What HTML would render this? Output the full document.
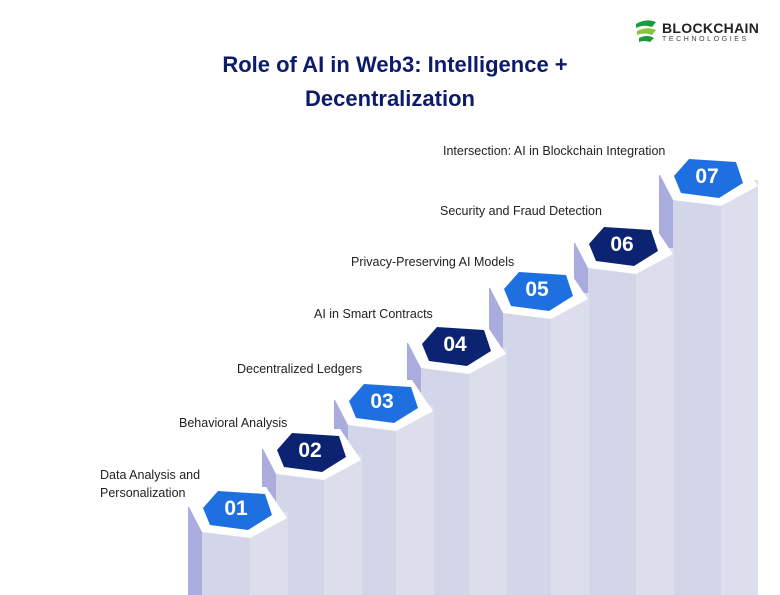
<!DOCTYPE html>
<html><head><meta charset="utf-8"><style>
html,body{margin:0;padding:0;background:#fff;}
svg{display:block;}
text{font-family:"Liberation Sans",sans-serif;}
</style></head><body>
<svg width="780" height="595" viewBox="0 0 780 595" xmlns="http://www.w3.org/2000/svg">
<rect width="780" height="595" fill="#fff"/>
<g>
<path d="M636 24 q10 -6 20 -2 l-4 5 q-8 -3 -16 1z" fill="#1a9c3a"/>
<path d="M637 31 q10 -5 19 -1 l-4 5 q-8 -3 -15 0z" fill="#8bc53f"/>
<path d="M639 38 q8 -4 15 0 l-4 4 q-6 -2 -11 0z" fill="#1a9c3a"/>
<text x="662" y="33" font-size="14" font-weight="bold" fill="#222" letter-spacing="0.3">BLOCKCHAIN</text>
<text x="662" y="41" font-size="7" fill="#444" letter-spacing="2.6">TECHNOLOGIES</text>
</g>
<text x="395" y="72" font-size="22" font-weight="bold" fill="#0d1b6b" text-anchor="middle">Role of AI in Web3: Intelligence +</text>
<text x="390" y="106" font-size="22" font-weight="bold" fill="#0d1b6b" text-anchor="middle">Decentralization</text>

<g>
<rect x="659" y="175" width="15" height="420" fill="#a9acdd"/>
<rect x="673" y="195" width="49" height="400" fill="#d3d5e8"/>
<rect x="721" y="180" width="37" height="415" fill="#dcdeeb"/>
<polygon points="659,173 673,155 737,155 758,186 721,206 673,200" fill="#fff"/>
<polygon points="674,176 689,159 736,162 743,183 719,198 681,193" fill="#1e6fe0"/>
<text x="707" y="183" font-size="21" font-weight="bold" fill="#fff" text-anchor="middle">07</text>
</g>
<g>
<rect x="574" y="243" width="15" height="352" fill="#a9acdd"/>
<rect x="588" y="263" width="49" height="332" fill="#d3d5e8"/>
<rect x="636" y="248" width="38" height="347" fill="#dcdeeb"/>
<polygon points="574,241 588,223 652,223 673,254 636,274 588,268" fill="#fff"/>
<polygon points="589,244 604,227 651,230 658,251 634,266 596,261" fill="#0c2372"/>
<text x="622" y="251" font-size="21" font-weight="bold" fill="#fff" text-anchor="middle">06</text>
</g>
<g>
<rect x="489" y="288" width="15" height="307" fill="#a9acdd"/>
<rect x="503" y="308" width="49" height="287" fill="#d3d5e8"/>
<rect x="551" y="293" width="38" height="302" fill="#dcdeeb"/>
<polygon points="489,286 503,268 567,268 588,299 551,319 503,313" fill="#fff"/>
<polygon points="504,289 519,272 566,275 573,296 549,311 511,306" fill="#1e6fe0"/>
<text x="537" y="296" font-size="21" font-weight="bold" fill="#fff" text-anchor="middle">05</text>
</g>
<g>
<rect x="407" y="343" width="15" height="252" fill="#a9acdd"/>
<rect x="421" y="363" width="49" height="232" fill="#d3d5e8"/>
<rect x="469" y="348" width="38" height="247" fill="#dcdeeb"/>
<polygon points="407,341 421,323 485,323 506,354 469,374 421,368" fill="#fff"/>
<polygon points="422,344 437,327 484,330 491,351 467,366 429,361" fill="#0c2372"/>
<text x="455" y="351" font-size="21" font-weight="bold" fill="#fff" text-anchor="middle">04</text>
</g>
<g>
<rect x="334" y="400" width="15" height="195" fill="#a9acdd"/>
<rect x="348" y="420" width="49" height="175" fill="#d3d5e8"/>
<rect x="396" y="405" width="38" height="190" fill="#dcdeeb"/>
<polygon points="334,398 348,380 412,380 433,411 396,431 348,425" fill="#fff"/>
<polygon points="349,401 364,384 411,387 418,408 394,423 356,418" fill="#1e6fe0"/>
<text x="382" y="408" font-size="21" font-weight="bold" fill="#fff" text-anchor="middle">03</text>
</g>
<g>
<rect x="262" y="449" width="15" height="146" fill="#a9acdd"/>
<rect x="276" y="469" width="49" height="126" fill="#d3d5e8"/>
<rect x="324" y="454" width="38" height="141" fill="#dcdeeb"/>
<polygon points="262,447 276,429 340,429 361,460 324,480 276,474" fill="#fff"/>
<polygon points="277,450 292,433 339,436 346,457 322,472 284,467" fill="#0c2372"/>
<text x="310" y="457" font-size="21" font-weight="bold" fill="#fff" text-anchor="middle">02</text>
</g>
<g>
<rect x="188" y="507" width="15" height="88" fill="#a9acdd"/>
<rect x="202" y="527" width="49" height="68" fill="#d3d5e8"/>
<rect x="250" y="512" width="38" height="83" fill="#dcdeeb"/>
<polygon points="188,505 202,487 266,487 287,518 250,538 202,532" fill="#fff"/>
<polygon points="203,508 218,491 265,494 272,515 248,530 210,525" fill="#1e6fe0"/>
<text x="236" y="515" font-size="21" font-weight="bold" fill="#fff" text-anchor="middle">01</text>
</g>

<g font-size="12.5" fill="#222">
<text x="100" y="479">Data Analysis and</text>
<text x="100" y="497">Personalization</text>
<text x="179" y="427">Behavioral Analysis</text>
<text x="237" y="373">Decentralized Ledgers</text>
<text x="314" y="318">AI in Smart Contracts</text>
<text x="351" y="266">Privacy-Preserving AI Models</text>
<text x="440" y="215">Security and Fraud Detection</text>
<text x="443" y="155">Intersection: AI in Blockchain Integration</text>
</g>
</svg>
</body></html>
